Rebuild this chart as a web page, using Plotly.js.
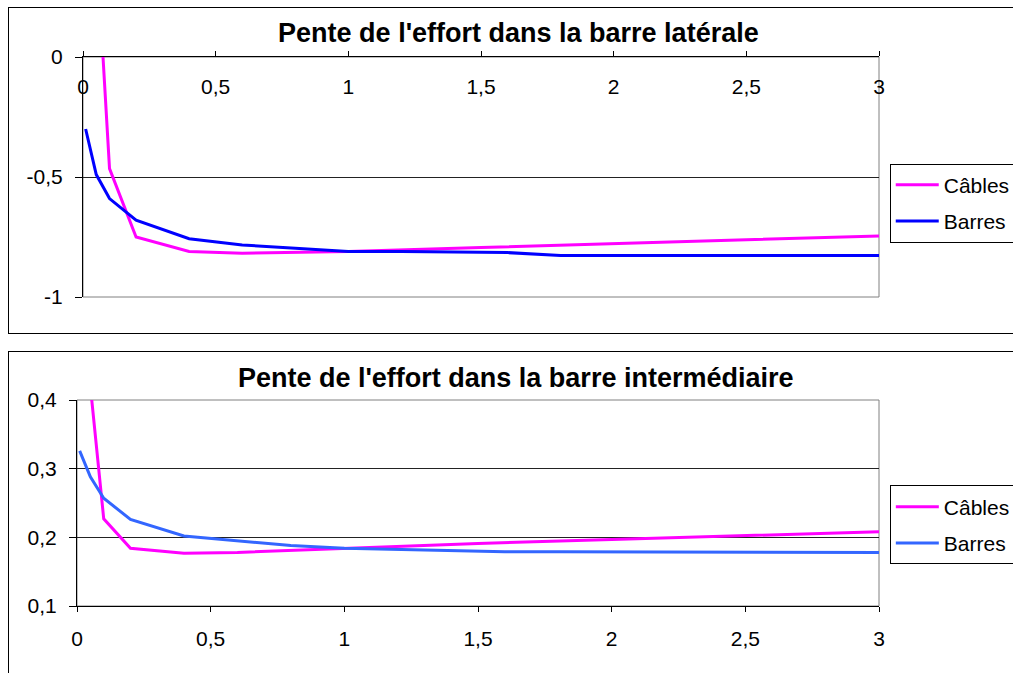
<!DOCTYPE html>
<html>
<head>
<meta charset="utf-8">
<script src="https://cdn.plot.ly/plotly-3.0.1.min.js"></script>
<style>
html,body{margin:0;padding:0;background:#fff;overflow:hidden;width:1013px;height:673px;position:relative;}
.box{position:absolute;border:1px solid #000;background:#fff;}
</style>
</head>
<body>
<div class="box" style="left:8px;top:7px;width:1060px;height:325px;"><div id="top" style="width:1060px;height:325px;"></div></div>
<div class="box" style="left:8px;top:351px;width:1060px;height:326px;"><div id="bot" style="width:1060px;height:326px;"></div></div>
<script>
// ---- data ----
const seriesNames = ["Câbles", "Barres"];
const titleTop = "Pente de l'effort dans la barre latérale";
const titleBot = "Pente de l'effort dans la barre intermédiaire";

const xCables = [0.05, 0.1, 0.2, 0.4, 0.6, 0.8, 1, 1.5, 2, 2.5, 3];
const xBarres = [0.01, 0.05, 0.1, 0.2, 0.4, 0.6, 0.8, 1, 1.2, 1.4, 1.6, 1.8, 2, 2.5, 3];

const cablesLat = [0.48, -0.465, -0.75, -0.81, -0.818, -0.813, -0.81, -0.794, -0.776, -0.761, -0.746];
const barresLat = [-0.30, -0.49, -0.59, -0.68, -0.757, -0.783, -0.797, -0.81, -0.81, -0.814, -0.815, -0.827, -0.827, -0.827, -0.827];

const cablesInt = [0.42, 0.227, 0.184, 0.177, 0.178, 0.181, 0.184, 0.191, 0.197, 0.203, 0.208];
const barresInt = [0.326, 0.288, 0.257, 0.226, 0.202, 0.195, 0.188, 0.184, 0.182, 0.181, 0.179, 0.179, 0.179, 0.178, 0.178];

const xTickVals = [0, 0.5, 1, 1.5, 2, 2.5, 3];
const yTickValsTop = [-1, -0.5, 0];
const yTickTextTop = ["-1", "-0,5", "0"];
const yTickValsBot = [0.1, 0.2, 0.3, 0.4];
const yTickTextBot = ["0,1", "0,2", "0,3", "0,4"];

// ---- styling ----
const FONT = "Liberation Sans, Arial, sans-serif";
const magenta = "#FF00FF";
const blueTop = "#0000FF";
const blueBot = "#3366FF";

function traces(yc, yb, bcol) {
  return [
    {x: xCables, y: yc, name: seriesNames[0], type: "scatter", mode: "lines",
     line: {color: magenta, width: 3}, legendgroup: "a"},
    {x: xBarres, y: yb, name: seriesNames[1], type: "scatter", mode: "lines",
     line: {color: bcol, width: 3}, legendgroup: "b"}
  ];
}

function baseLayout(title, titleY, yr, yvals, ytext, xside, margin, legX, legY) {
  return {
    separators: ", ",
    font: {family: FONT, size: 21, color: "#000"},
    paper_bgcolor: "#fff",
    plot_bgcolor: "#fff",
    showlegend: true,
    margin: margin,
    title: {text: title, font: {family: FONT, size: 27, weight: "bold", color: "#000"},
            xref: "paper", x: 0.547, xanchor: "center", yref: "container", y: titleY, yanchor: "middle"},
    xaxis: {range: [0, 3], tickvals: xTickVals, side: xside, showline: true, linecolor: "#000", linewidth: 1,
            ticks: "outside", ticklen: 5, tickcolor: "#000", showgrid: false, zeroline: false,
            tickfont: {size: 21, color: "#000"}, ticklabeloverflow: "allow", fixedrange: true},
    yaxis: {range: yr, tickvals: yvals, ticktext: ytext, showline: true, linecolor: "#000", linewidth: 1,
            ticks: "outside", ticklen: 7, tickcolor: "#000", showgrid: true, gridcolor: "#222", gridwidth: 1,
            zeroline: false, tickfont: {size: 21, color: "#000"}, ticklabelstandoff: 8, fixedrange: true},
    legend: {x: legX, xanchor: "left", y: legY, yanchor: "top", bgcolor: "#fff", bordercolor: "#000",
             borderwidth: 1, font: {size: 21, color: "#000"}, traceorder: "grouped", tracegroupgap: 6,
             itemwidth: 43},
    shapes: [{type: "rect", xref: "x domain", yref: "y domain", x0: 0, x1: 1, y0: 0, y1: 1,
              line: {color: "#808080", width: 1}, layer: "below"}]
  };
}

const layTop = baseLayout(titleTop, 0.926, [-1, 0], yTickValsTop, yTickTextTop, "top",
  {l: 74, r: 190, t: 49, b: 36}, 1.0135, 0.556);
layTop.xaxis.ticklabelposition = "inside";
layTop.xaxis.ticklabelstandoff = 24;

const layBot = baseLayout(titleBot, 0.923, [0.1, 0.4], yTickValsBot, yTickTextBot, "bottom",
  {l: 68, r: 190, t: 48, b: 72}, 1.0135, 0.585);
layBot.xaxis.ticklabelstandoff = 9;

Plotly.newPlot("top", traces(cablesLat, barresLat, blueTop), layTop, {displayModeBar: false, staticPlot: true});
Plotly.newPlot("bot", traces(cablesInt, barresInt, blueBot), layBot, {displayModeBar: false, staticPlot: true});
</script>
</body>
</html>
